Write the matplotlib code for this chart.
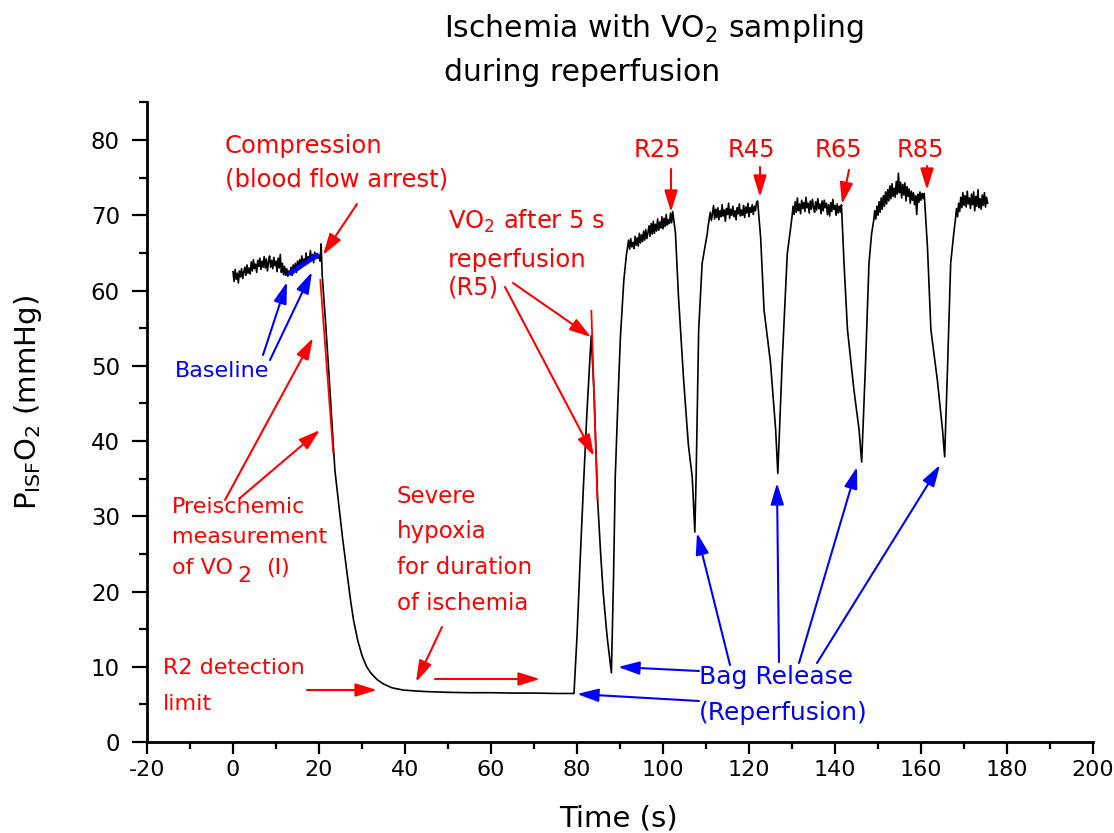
import numpy as np
import matplotlib
matplotlib.use("Agg")
import matplotlib.pyplot as plt
from matplotlib.ticker import MultipleLocator

# ---------------- data ----------------
sample_step = 0.25

baseline_start = 0.0
baseline_vals = [62.5, 61.2, 62.8, 61.5, 62.3, 61.0, 62.6, 61.8, 62.9, 61.6, 62.4, 63.1,
                 62.0, 63.4, 62.3, 63.0, 62.2, 63.8, 62.6, 64.1, 62.9, 63.5, 62.4, 64.0,
                 63.2, 64.3, 62.8, 63.9, 63.1, 64.5, 63.0, 64.2, 62.6, 63.8, 64.6, 63.1,
                 64.0, 62.9, 64.4, 63.3, 63.9, 62.5, 64.3, 63.0, 64.8, 62.4, 63.6, 62.1,
                 63.2, 62.0, 62.9, 61.9, 62.6, 62.2, 63.1, 62.0, 63.4, 62.5, 63.6, 62.4,
                 63.9, 62.8, 64.1, 63.0, 64.6, 63.3, 64.2, 63.4, 65.0, 63.6, 64.5, 63.8,
                 65.3, 64.0, 64.8, 63.7, 65.1, 64.2, 64.9, 64.3, 64.7, 63.9, 66.2]

ischemia_t = [20.75, 21.5, 22.3, 23.0, 23.7, 24.5, 25.5, 26.5, 27.3, 28.0, 29.0, 30.0,
              31.0, 32.0, 33.5, 35.0, 37.0, 39.6, 42.0, 45.0, 50.0, 55.0, 60.0, 65.0,
              70.0, 75.0, 79.3]
ischemia_vals = [62.0, 56.0, 49.0, 42.5, 36.1, 32.0, 27.0, 22.5, 19.0, 16.3, 13.5, 11.5,
                 10.1, 9.2, 8.3, 7.7, 7.2, 6.9, 6.8, 6.7, 6.6, 6.55, 6.55, 6.5,
                 6.5, 6.45, 6.45]

r5_t = [80.0, 80.8, 81.5, 82.3, 83.3, 84.0, 84.8, 85.5, 86.1, 87.0, 88.0, 88.5, 88.9,
        89.5, 90.1, 90.9, 91.5]
r5_vals = [14.0, 25.0, 34.0, 43.7, 54.0, 46.0, 32.2, 25.0, 19.8, 14.0, 9.2, 22.0, 35.3,
           45.0, 53.9, 61.4, 64.8]

plateau1_start = 92.0
plateau1_vals = [66.7, 65.5, 66.9, 65.8, 66.4, 65.6, 67.2, 66.0, 67.0, 65.9, 67.6, 66.3,
                 67.4, 66.5, 67.9, 66.7, 68.1, 66.9, 67.7, 68.6, 67.2, 68.9, 67.5, 69.2,
                 67.6, 68.8, 67.9, 69.5, 68.0, 69.1, 68.3, 69.8, 68.2, 69.6, 68.5, 70.1,
                 68.7, 69.4, 68.9, 70.3, 69.0, 70.5, 69.4]

dip1_t = [102.9, 103.6, 104.8, 105.9, 106.8, 107.4, 107.7, 108.3, 109.1, 110.3]
dip1_vals = [67.6, 59.2, 48.1, 39.5, 35.2, 27.9, 35.2, 54.8, 63.6, 67.6]

plateau2_start = 110.5
plateau2_vals = [68.6, 69.5, 70.4, 69.3, 70.2, 71.3, 69.5, 70.8, 69.7, 71.0, 69.4, 70.6,
                 69.8, 71.4, 69.9, 70.7, 69.2, 70.9, 70.1, 71.6, 69.6, 70.8, 70.0, 71.2,
                 69.8, 70.6, 69.4, 71.0, 70.2, 71.5, 69.9, 70.7, 70.0, 71.3, 69.7, 71.1,
                 70.3, 71.6, 69.8, 71.0, 70.4, 71.4, 70.1, 71.2, 70.6, 71.7, 71.9]

dip2_t = [122.7, 123.5, 125.0, 126.2, 126.7, 127.7, 128.9, 129.5]
dip2_vals = [67.1, 57.4, 50.4, 41.5, 35.7, 50.3, 64.9, 67.5]

plateau3_start = 130.0
plateau3_vals = [69.8, 71.2, 70.1, 71.8, 70.4, 72.3, 70.6, 71.5, 70.2, 72.0, 70.9, 71.7,
                 70.5, 72.4, 71.0, 71.6, 70.3, 71.9, 70.8, 72.1, 71.1, 70.4, 71.8, 70.7,
                 72.2, 70.9, 71.5, 70.2, 71.9, 70.6, 72.0, 71.0, 71.6, 70.1, 71.4, 69.9,
                 71.7, 70.5, 72.1, 70.8, 71.3, 70.0, 71.5, 70.3, 71.2, 70.4, 71.4]

dip3_t = [142.1, 142.9, 144.4, 145.6, 146.2, 147.1, 147.9, 148.5]
dip3_vals = [63.6, 54.8, 46.8, 41.5, 37.2, 50.3, 63.6, 67.5]

plateau4_start = 149.0
plateau4_vals = [69.3, 70.6, 69.5, 71.2, 70.0, 71.8, 70.4, 72.3, 70.8, 72.6, 71.2, 73.1,
                 71.5, 73.4, 71.9, 73.9, 72.2, 74.2, 72.5, 73.6, 72.4, 74.5, 72.8, 75.6,
                 73.0, 74.4, 72.3, 74.1, 72.7, 74.3, 71.9, 73.8, 72.5, 73.5, 71.6, 73.2,
                 72.0, 73.0, 71.4, 72.6, 70.1, 72.8, 71.7, 73.1, 72.0, 72.9, 72.2, 72.9]

dip4_t = [161.5, 162.3, 163.8, 165.0, 165.5, 166.2, 166.9, 167.6]
dip4_vals = [65.8, 54.8, 48.1, 41.5, 37.9, 50.3, 63.6, 67.5]

plateau5_start = 168.0
plateau5_vals = [69.4, 70.9, 69.8, 71.6, 70.5, 72.4, 71.0, 73.0, 71.3, 72.6, 71.1, 73.2,
                 71.5, 72.3, 70.9, 72.8, 71.4, 73.1, 70.6, 72.5, 71.2, 73.4, 71.0, 72.2,
                 70.8, 72.7, 71.3, 73.0, 71.1, 72.4, 71.6]

# fitted slope segments (red) and baseline fit (blue): (t, y) end points
slope_ischemia = [(20.3, 61.4), (23.3, 38.5)]
slope_r5 = [(83.34, 57.3), (84.74, 32.2)]
baseline_fit = [(13.3, 62.3), (19.5, 64.7)]


def sampled(start, vals):
    return start + sample_step * np.arange(len(vals)), np.asarray(vals, float)


segments = [
    sampled(baseline_start, baseline_vals),
    (np.array(ischemia_t), np.array(ischemia_vals)),
    (np.array(r5_t), np.array(r5_vals)),
    sampled(plateau1_start, plateau1_vals),
    (np.array(dip1_t), np.array(dip1_vals)),
    sampled(plateau2_start, plateau2_vals),
    (np.array(dip2_t), np.array(dip2_vals)),
    sampled(plateau3_start, plateau3_vals),
    (np.array(dip3_t), np.array(dip3_vals)),
    sampled(plateau4_start, plateau4_vals),
    (np.array(dip4_t), np.array(dip4_vals)),
    sampled(plateau5_start, plateau5_vals),
]
time = np.concatenate([s[0] for s in segments])
po2 = np.concatenate([s[1] for s in segments])

# ---------------- figure ----------------
W, H = 1114, 833
fig = plt.figure(figsize=(W / 100, H / 100), dpi=100)
ax_l, ax_r, ax_b, ax_t = 147, 1093, 742, 102.4
ax = fig.add_axes([ax_l / W, (H - ax_b) / H, (ax_r - ax_l) / W, (ax_b - ax_t) / H])
XMIN, XMAX, YMIN, YMAX = -20, 200, 0, 85
ax.set_xlim(XMIN, XMAX)
ax.set_ylim(YMIN, YMAX)


def X(px):
    return XMIN + (px - ax_l) * (XMAX - XMIN) / (ax_r - ax_l)


def Y(py):
    return YMIN + (ax_b - py) * (YMAX - YMIN) / (ax_b - ax_t)


ax.plot(time, po2, color="black", lw=1.2, zorder=3)
ax.plot([p[0] for p in slope_ischemia], [p[1] for p in slope_ischemia], color="red", lw=1.3, zorder=4)
ax.plot([p[0] for p in slope_r5], [p[1] for p in slope_r5], color="red", lw=1.3, zorder=4)
ax.plot([p[0] for p in baseline_fit], [p[1] for p in baseline_fit], color="blue", lw=3.5,
        solid_capstyle="round", zorder=4)

# axes styling
for s in ("top", "right"):
    ax.spines[s].set_visible(False)
for s in ("left", "bottom"):
    ax.spines[s].set_linewidth(2.0)
ax.xaxis.set_major_locator(MultipleLocator(20))
ax.xaxis.set_minor_locator(MultipleLocator(10))
ax.yaxis.set_major_locator(MultipleLocator(10))
ax.yaxis.set_minor_locator(MultipleLocator(5))
ax.tick_params(axis="x", which="major", length=8.6, width=1.6, labelsize=16, pad=4)
ax.tick_params(axis="x", which="minor", length=5, width=1.6)
ax.tick_params(axis="y", which="major", length=10.5, width=1.6, labelsize=16.5, pad=9)
ax.tick_params(axis="y", which="minor", length=5.8, width=1.6)
ax.set_xticks(np.arange(-20, 201, 20))
ax.set_xticklabels([str(v) for v in range(-20, 201, 20)])


def fx(px):
    return px / W


def fy(py):
    return 1 - py / H


# titles and axis labels
fig.text(fx(444), fy(37.3), r"Ischemia with VO$_2$ sampling", fontsize=21.5, ha="left", va="baseline")
fig.text(fx(444), fy(81), "during reperfusion", fontsize=21.5, ha="left", va="baseline")
fig.text(fx(618), fy(827), "Time (s)", fontsize=21, ha="center", va="baseline")
fig.text(fx(28), fy(403), r"P$_{\rm ISF}$O$_2$ (mmHg)", fontsize=21, rotation=90, ha="center", va="center")

RED, BLUE = "red", "blue"


def label(px, py, s, color, size, ha="left"):
    ax.text(X(px), Y(py), s, color=color, fontsize=size, ha=ha, va="baseline", zorder=5)


label(225, 153, "Compression", RED, 17.5)
label(225, 187, "(blood flow arrest)", RED, 17.5)
label(448, 229, r"VO$_2$ after 5 s", RED, 17.5)
label(448, 267, "reperfusion", RED, 17.5)
label(448, 295, "(R5)", RED, 17.5)
for cx, s in [(657, "R25"), (751, "R45"), (838, "R65"), (920, "R85")]:
    label(cx, 157, s, RED, 17.5, ha="center")
label(172, 513, "Preischemic", RED, 16)
label(172, 543, "measurement", RED, 16)
label(172, 574, "of VO", RED, 16)
label(237, 582, "2", RED, 16)
label(266, 574, "(I)", RED, 16)
label(397, 503, "Severe", RED, 16.5)
label(397, 538, "hypoxia", RED, 16.5)
label(397, 574, "for duration", RED, 16.5)
label(397, 610, "of ischemia", RED, 16.5)
label(163, 674, "R2 detection", RED, 16)
label(163, 710, "limit", RED, 16)
label(175, 377, "Baseline", BLUE, 16)
label(699, 684, "Bag Release", BLUE, 18)
label(699, 720, "(Reperfusion)", BLUE, 18)

red_arrows = [((357, 204), (323, 255)), ((225, 500), (313, 338)), ((240, 498), (320, 430)),
              ((513, 283), (591, 337)), ((505, 287), (594, 456)), ((442, 627), (416, 682)),
              ((435, 679), (540, 679)), ((307, 690), (377, 690)), ((671, 169), (671, 212)),
              ((760, 167), (760, 197)), ((849, 170), (842, 204)), ((927, 166), (927, 190))]
blue_arrows = [((263, 355), (287, 282)), ((270, 360), (312, 272)), ((699, 671), (618, 667)),
               ((699, 701), (577, 694)), ((730, 665), (697, 533)), ((779, 662), (777, 483)),
               ((799, 663), (857, 467)), ((817, 663), (940, 465))]

for arrows, col in ((red_arrows, RED), (blue_arrows, BLUE)):
    for (sx, sy), (tx, ty) in arrows:
        ax.annotate("", xy=(X(tx), Y(ty)), xytext=(X(sx), Y(sy)),
                    arrowprops=dict(arrowstyle="-|>,head_length=0.65,head_width=0.2",
                                    color=col, lw=1.5, shrinkA=0, shrinkB=0,
                                    mutation_scale=20),
                    annotation_clip=False, zorder=5)

fig.savefig("out.png", dpi=100)
